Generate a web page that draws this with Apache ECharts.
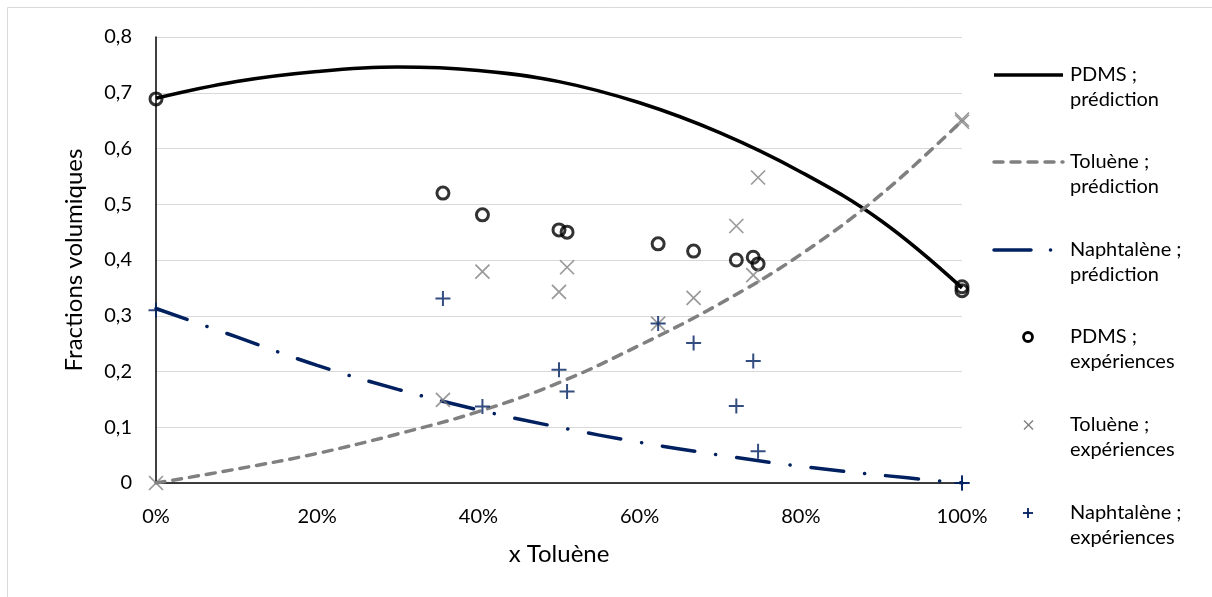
<!DOCTYPE html>
<html>
<head>
<meta charset="utf-8">
<script src="https://cdn.jsdelivr.net/npm/echarts@6/dist/echarts.min.js"></script>
<style>
html,body{margin:0;padding:0;background:#fff;}
#chart{width:1212px;height:597px;}
</style>
</head>
<body>
<div id="chart"></div>
<script>
// Prediction curves (x = toluene fraction)
const predX = [0, 0.1, 0.2, 0.3, 0.4, 0.5, 0.6, 0.7, 0.8, 0.9, 1.0];
const pdmsPred = [0.690, 0.720, 0.738, 0.746, 0.740, 0.720, 0.682, 0.628, 0.558, 0.470, 0.350];
const toluenePred = [0.000, 0.025, 0.053, 0.088, 0.128, 0.180, 0.247, 0.322, 0.410, 0.518, 0.650];
const naphPred = [0.313, 0.262, 0.211, 0.168, 0.131, 0.100, 0.073, 0.050, 0.030, 0.014, 0.000];

// Experiments
const expX = [0, 0.356, 0.405, 0.500, 0.510, 0.623, 0.667, 0.720, 0.741, 0.747, 1.0, 1.0];
const pdmsExp = [0.689, 0.520, 0.481, 0.454, 0.450, 0.429, 0.416, 0.400, 0.405, 0.393, 0.352, 0.345];
const tolueneExp = [0.000, 0.149, 0.379, 0.343, 0.387, 0.286, 0.332, 0.461, 0.373, 0.548, 0.648, 0.652];
const naphExp = [0.310, 0.331, 0.137, 0.203, 0.164, 0.286, 0.251, 0.138, 0.219, 0.057, 0.000, 0.000];

const seriesNames = ['PDMS ; prédiction', 'Toluène ; prédiction', 'Naphtalène ; prédiction',
                     'PDMS ; expériences', 'Toluène ; expériences', 'Naphtalène ; expériences'];
const legendLines = [['PDMS ;', 'prédiction'], ['Toluène ;', 'prédiction'], ['Naphtalène ;', 'prédiction'],
                     ['PDMS ;', 'expériences'], ['Toluène ;', 'expériences'], ['Naphtalène ;', 'expériences']];
const xTitle = 'x Toluène';
const yTitle = 'Fractions volumiques';

const FONT = 'Lato';
const FS = 20;      // tick labels & legend
const FS_T = 24;    // axis titles
const BLACK = '#000000';
const GREY = '#808080';
const NAVY = '#002060';

const zip = (xs, ys) => xs.map((x, i) => [x, ys[i]]);

const crossPath = 'path://M0,0L10,10M10,0L0,10';
const plusPath = 'path://M5,0L5,10M0,5L10,5';

const chart = echarts.init(document.getElementById('chart'), null, {renderer: 'canvas'});

// legend built with graphics
const legendX = 993, legendTextX = 1070;
const legendY = [75, 162, 250, 337, 425, 513];
const gfx = [];
gfx.push({type: 'rect', shape: {x: 7.5, y: 7.5, width: 1300, height: 700},
  style: {fill: 'none', stroke: '#d9d9d9', lineWidth: 1}, silent: true, z: -10});
const lineStyles = [
  {stroke: BLACK, lineWidth: 3.5, lineDash: null, lineCap: 'butt'},
  {stroke: GREY, lineWidth: 3.5, lineDash: [9, 8], lineCap: 'round'},
  {stroke: NAVY, lineWidth: 3.5, lineDash: [37, 19.5, 0.1, 40], lineCap: 'round'}
];
for (let i = 0; i < 3; i++) {
  gfx.push({type: 'line', shape: {x1: legendX + 1, y1: legendY[i], x2: legendX + 70, y2: legendY[i]},
    style: Object.assign({fill: 'none'}, lineStyles[i]), silent: true});
}
gfx.push({type: 'circle', shape: {cx: 1028, cy: legendY[3], r: 4.5},
  style: {fill: 'none', stroke: BLACK, lineWidth: 2.8}, silent: true});
gfx.push({type: 'polyline', shape: {points: [[1024, legendY[4] - 4.5], [1033, legendY[4] + 4.5]]},
  style: {stroke: GREY, lineWidth: 1.4, fill: 'none'}, silent: true});
gfx.push({type: 'polyline', shape: {points: [[1033, legendY[4] - 4.5], [1024, legendY[4] + 4.5]]},
  style: {stroke: GREY, lineWidth: 1.4, fill: 'none'}, silent: true});
gfx.push({type: 'polyline', shape: {points: [[1028, legendY[5] - 5], [1028, legendY[5] + 5]]},
  style: {stroke: NAVY, lineWidth: 1.8, fill: 'none'}, silent: true});
gfx.push({type: 'polyline', shape: {points: [[1023, legendY[5]], [1033, legendY[5]]]},
  style: {stroke: NAVY, lineWidth: 1.8, fill: 'none'}, silent: true});
for (let i = 0; i < 6; i++) {
  gfx.push({type: 'text', x: legendTextX, y: legendY[i],
    style: {text: legendLines[i][0], fill: '#000', font: FS + 'px ' + FONT, verticalAlign: 'middle'}, silent: true});
  gfx.push({type: 'text', x: legendTextX, y: legendY[i] + 25,
    style: {text: legendLines[i][1], fill: '#000', font: FS + 'px ' + FONT, verticalAlign: 'middle'}, silent: true});
}

const option = {
  animation: false,
  backgroundColor: '#ffffff',
  textStyle: {fontFamily: FONT},
  grid: {left: 156, right: 250, top: 37, bottom: 114, containLabel: false},
  xAxis: {
    type: 'value', min: 0, max: 1, interval: 0.2,
    name: xTitle, nameLocation: 'middle', nameGap: 59,
    nameTextStyle: {fontFamily: FONT, fontSize: FS_T, color: '#000'},
    axisLine: {show: true, onZero: false, lineStyle: {color: '#000', width: 1.5}},
    axisTick: {show: false},
    splitLine: {show: false},
    axisLabel: {fontFamily: FONT, fontSize: FS, color: '#000', margin: 24,
      formatter: v => Math.round(v * 100) + '%'}
  },
  yAxis: {
    type: 'value', min: 0, max: 0.8, interval: 0.1,
    name: yTitle, nameLocation: 'middle', nameGap: 70, nameRotate: 90,
    nameTextStyle: {fontFamily: FONT, fontSize: FS_T, color: '#000'},
    axisLine: {show: true, lineStyle: {color: '#000', width: 1.5}},
    axisTick: {show: false},
    splitLine: {show: true, lineStyle: {color: '#d9d9d9', width: 1.2}},
    axisLabel: {fontFamily: FONT, fontSize: FS, color: '#000', margin: 24,
      formatter: v => v === 0 ? '0' : v.toFixed(1).replace('.', ',')}
  },
  graphic: gfx,
  series: [
    {name: seriesNames[0], type: 'line', data: zip(predX, pdmsPred), smooth: 0.4, symbol: 'none',
     lineStyle: {color: BLACK, width: 3.5}, z: 2, silent: true},
    {name: seriesNames[1], type: 'line', data: zip(predX, toluenePred), smooth: 0.4, symbol: 'none',
     lineStyle: {color: GREY, width: 3.5, type: [9, 8], cap: 'round'}, z: 2, silent: true},
    {name: seriesNames[2], type: 'line', data: zip(predX, naphPred), smooth: 0.4, symbol: 'none',
     lineStyle: {color: NAVY, width: 3.5, type: [33, 21, 0.1, 21], cap: 'round'}, z: 2, silent: true},
    {name: seriesNames[3], type: 'scatter', data: zip(expX, pdmsExp), symbol: 'circle', symbolSize: 12,
     itemStyle: {color: 'rgba(0,0,0,0)', borderColor: BLACK, borderWidth: 3}, z: 3, silent: true},
    {name: seriesNames[4], type: 'scatter', data: zip(expX, tolueneExp), symbol: crossPath, symbolSize: 14,
     itemStyle: {color: 'rgba(0,0,0,0)', borderColor: GREY, borderWidth: 1.7}, z: 4, silent: true},
    {name: seriesNames[5], type: 'scatter', data: zip(expX, naphExp), symbol: plusPath, symbolSize: 15,
     itemStyle: {color: 'rgba(0,0,0,0)', borderColor: NAVY, borderWidth: 2}, z: 5, silent: true}
  ]
};
chart.setOption(option);
</script>
</body>
</html>
